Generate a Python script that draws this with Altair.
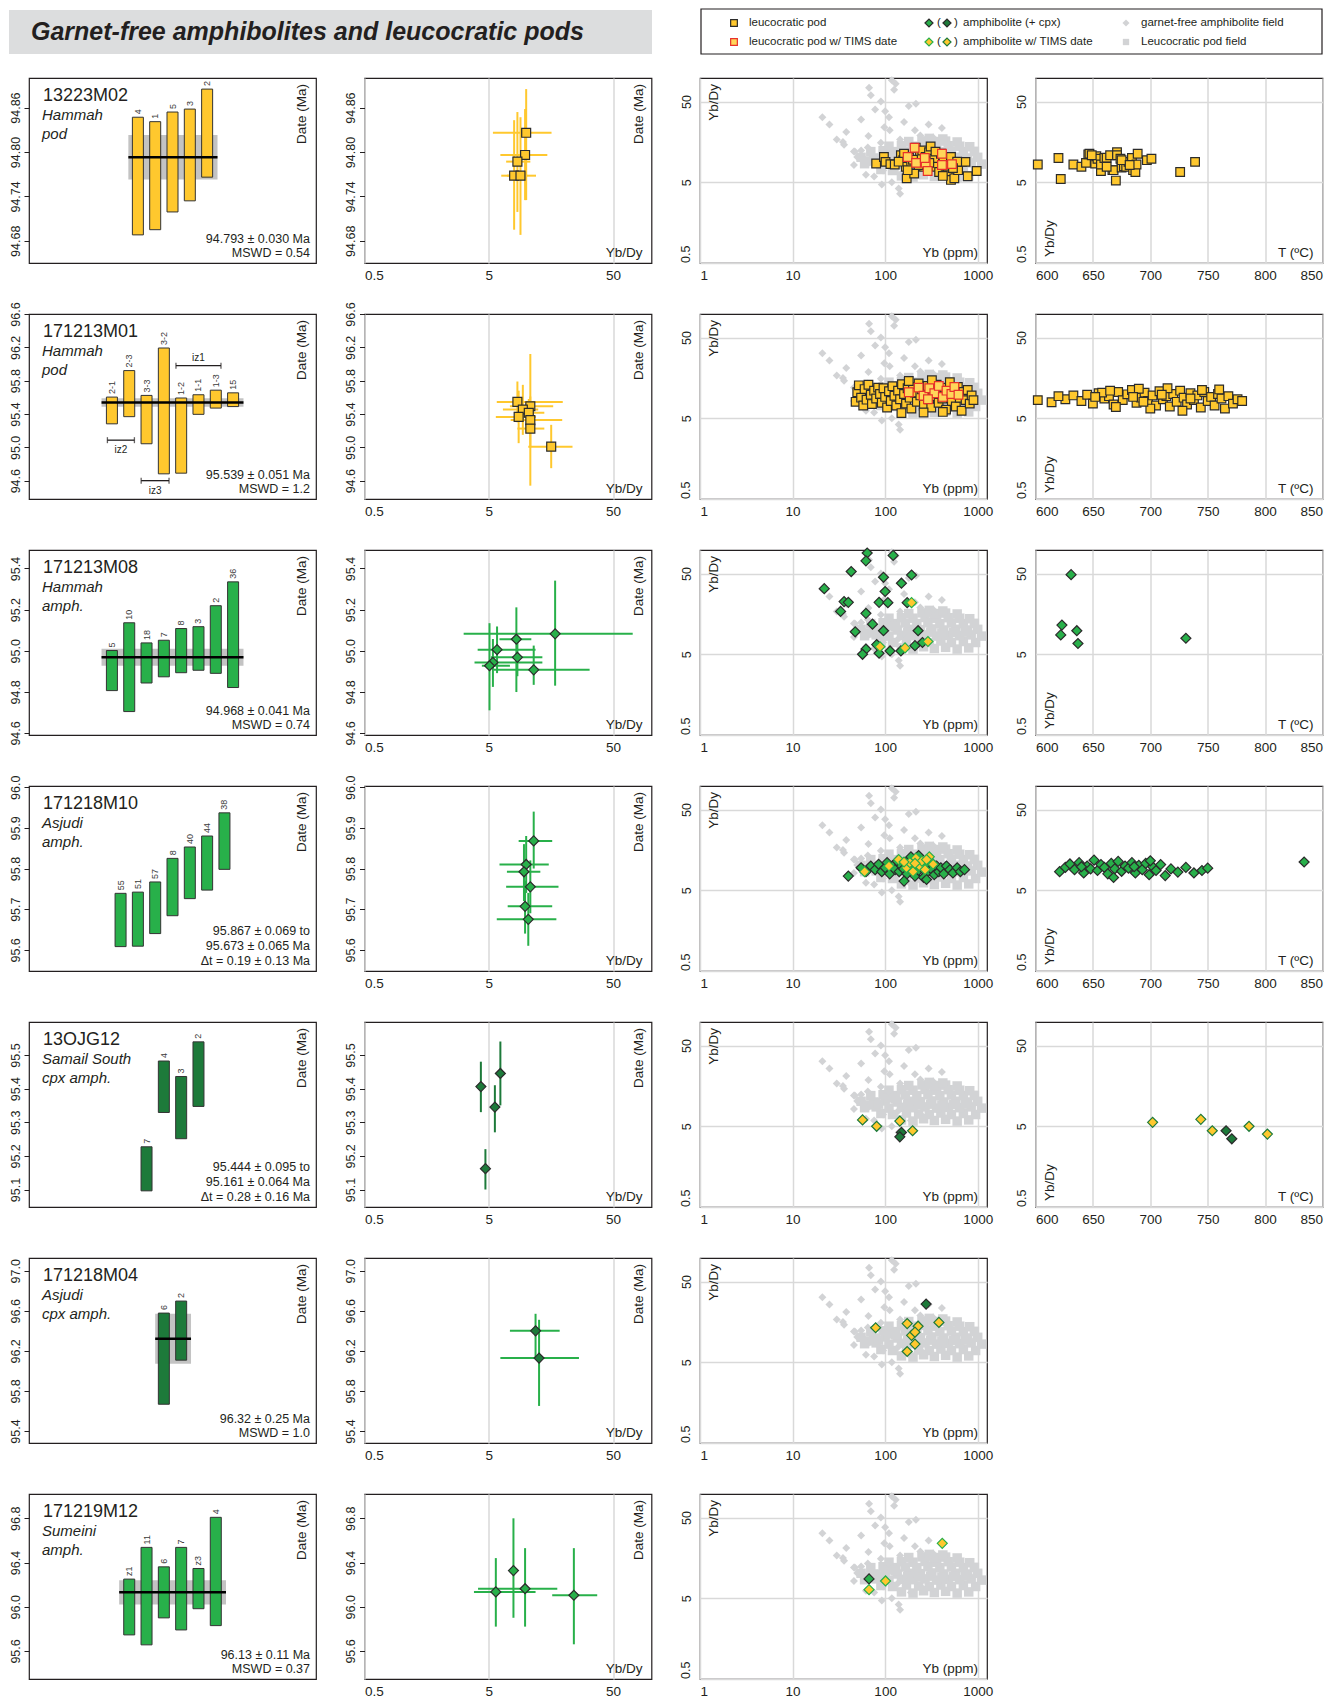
import altair as alt
import pandas as pd

FONT = "Liberation Sans"
INK = "#231F20"
YEL = "#FFC82E"
YEL_T = "#FFD65A"
GRN = "#28B04A"
DGRN = "#1D7A3A"
RED = "#E8302A"
FIELD = "#D2D3D5"
BAND = "#C3C3C3"
GRID = "#D9D9D9"
OUT = "#2B2B2B"

TITLE = "Garnet-free amphibolites and leucocratic pods"

# ---------------- column 1 : single-grain dates (bars) ----------------
NAMES = ["13223M02", "171213M01", "171213M08", "171218M10", "13OJG12", "171218M04", "171219M12"]
PLACES = [["Hammah", "pod"], ["Hammah", "pod"], ["Hammah", "amph."], ["Asjudi", "amph."],
          ["Samail South", "cpx amph."], ["Asjudi", "cpx amph."], ["Sumeini", "amph."]]
STATS = [["94.793 ± 0.030 Ma", "MSWD = 0.54"],
         ["95.539 ± 0.051 Ma", "MSWD = 1.2"],
         ["94.968 ± 0.041 Ma", "MSWD = 0.74"],
         ["95.867 ± 0.069 to", "95.673 ± 0.065 Ma", "Δt = 0.19 ± 0.13 Ma"],
         ["95.444 ± 0.095 to", "95.161 ± 0.064 Ma", "Δt = 0.28 ± 0.16 Ma"],
         ["96.32 ± 0.25 Ma", "MSWD = 1.0"],
         ["96.13 ± 0.11 Ma", "MSWD = 0.37"]]
YDOM = [[94.65, 94.90], [94.38, 96.6], [94.59, 95.49], [95.548, 96.003],
        [95.048, 95.598], [95.28, 97.127], [95.346, 97.02]]
YTICKS = [[94.68, 94.74, 94.80, 94.86], [94.6, 95.0, 95.4, 95.8, 96.2, 96.6],
          [94.6, 94.8, 95.0, 95.2, 95.4], [95.6, 95.7, 95.8, 95.9, 96.0],
          [95.1, 95.2, 95.3, 95.4, 95.5, 95.6], [95.4, 95.8, 96.2, 96.6, 97.0],
          [95.6, 96.0, 96.4, 96.8]]
YFMT = [".2f", ".1f", ".1f", ".1f", ".1f", ".1f", ".1f"]
BAR_COLOR = [YEL, YEL, GRN, GRN, DGRN, DGRN, GRN]

BAR_POS = [[6, 7, 8, 9, 10],
           [4.5, 5.5, 6.5, 7.5, 8.5, 9.5, 10.5, 11.5],
           [4.5, 5.5, 6.5, 7.5, 8.5, 9.5, 10.5, 11.5],
           [5, 6, 7, 8, 9, 10, 11],
           [6.5, 7.5, 8.5, 9.5],
           [7.5, 8.5],
           [5.5, 6.5, 7.5, 8.5, 9.5, 10.5]]
BAR_LO = [[94.688, 94.695, 94.719, 94.734, 94.766],
          [95.282, 95.368, 95.043, 94.682, 94.690, 95.396, 95.471, 95.489],
          [94.806, 94.704, 94.843, 94.873, 94.893, 94.905, 94.890, 94.821],
          [95.608, 95.609, 95.640, 95.684, 95.726, 95.747, 95.798],
          [95.096, 95.329, 95.251, 95.347],
          [95.667, 96.107],
          [95.745, 95.655, 95.899, 95.790, 95.982, 95.829]]
BAR_HI = [[94.847, 94.841, 94.854, 94.858, 94.885],
          [95.603, 95.921, 95.623, 96.192, 95.592, 95.631, 95.686, 95.654],
          [95.001, 95.136, 95.038, 95.051, 95.108, 95.117, 95.219, 95.335],
          [95.739, 95.742, 95.767, 95.825, 95.853, 95.880, 95.937],
          [95.227, 95.482, 95.436, 95.539],
          [96.577, 96.697],
          [96.250, 96.537, 96.361, 96.537, 96.346, 96.809]]
BAR_LAB = [["4", "1", "5", "3", "2"],
           ["2-1", "2-3", "3-3", "3-2", "1-2", "1-1", "1-3", "15"],
           ["5", "10", "18", "7", "8", "3", "2", "36"],
           ["55", "51", "57", "8", "40", "44", "38"],
           ["7", "4", "3", "2"],
           ["6", "2"],
           ["z1", "11", "6", "7", "z3", "4"]]
MEAN = [94.793, 95.539, 94.968, None, None, 96.32, 96.13]
MEAN_ERR = [0.030, 0.051, 0.041, None, None, 0.25, 0.11]
MEAN_SPAN = [[5.45, 10.6], [3.9, 12.1], [3.9, 12.1], None, None, [7.0, 9.07], [4.92, 11.09]]

IZ_LAB = ["iz1", "iz2", "iz3"]
IZ_X0 = [8.2, 4.24, 6.19]
IZ_X1 = [10.8, 5.8, 7.8]
IZ_Y = [95.98, 95.086, 94.60]
IZ_SIDE = ["above", "below", "below"]

# ---------------- column 2 : date vs Yb/Dy ----------------
C2_X = [[10.0, 9.8, 8.5, 8.0, 9.0],
        [8.5, 10.8, 9.4, 10.5, 8.7, 10.8, 10.8, 15.9],
        [5.83, 5.4, 5.07, 8.34, 8.5, 11.5, 17.1],
        [11.5, 10.0, 9.6, 10.8, 9.8, 10.4],
        [4.32, 5.6, 6.2, 4.7],
        [11.9, 12.7],
        [5.7, 7.9, 9.8, 24.2]]
C2_XLO = [[5.4, 6.2, 6.9, 6.3, 7.0],
          [5.8, 7.4, 6.5, 8.0, 5.7, 7.5, 8.5, 10.4],
          [4.07, 3.84, 4.4, 6.1, 5.2, 5.5, 3.14],
          [8.7, 6.1, 7.0, 6.9, 7.1, 5.8],
          [4.32, 5.6, 6.2, 4.7],
          [7.4, 6.2],
          [3.8, 7.9, 4.1, 16.2]]
C2_XHI = [[16.0, 14.8, 10.8, 10.2, 12.0],
          [19.7, 16.5, 12.5, 14.0, 12.0, 19.5, 14.0, 23.6],
          [11.9, 13.5, 7.4, 11.0, 13.5, 32.4, 72.0],
          [16.2, 15.2, 13.0, 18.2, 16.2, 17.5],
          [4.32, 5.6, 6.2, 4.7],
          [18.6, 26.6],
          [11.9, 7.9, 17.8, 37.3]]
C2_Y = [[94.826, 94.796, 94.787, 94.768, 94.768],
        [95.545, 95.493, 95.454, 95.415, 95.365, 95.327, 95.225, 95.008],
        [95.005, 94.943, 94.927, 95.056, 94.968, 94.907, 95.082],
        [95.868, 95.810, 95.792, 95.755, 95.707, 95.675],
        [95.406, 95.345, 95.445, 95.162],
        [96.40, 96.128],
        [96.134, 96.327, 96.163, 96.104]]
C2_YLO = [[94.735, 94.735, 94.719, 94.695, 94.688],
          [95.30, 95.38, 95.15, 95.25, 95.05, 94.54, 95.00, 94.75],
          [94.891, 94.824, 94.71, 94.799, 94.876, 94.834, 94.83],
          [95.80, 95.74, 95.72, 95.69, 95.64, 95.61],
          [95.33, 95.27, 95.35, 95.10],
          [96.12, 95.65],
          [95.82, 95.90, 95.82, 95.66]]
C2_YHI = [[94.885, 94.858, 94.854, 94.843, 94.847],
          [95.79, 95.61, 95.75, 95.58, 95.68, 96.12, 95.45, 95.27],
          [95.118, 95.057, 95.134, 95.211, 95.046, 95.025, 95.341],
          [95.94, 95.88, 95.86, 95.82, 95.77, 95.74],
          [95.48, 95.41, 95.54, 95.22],
          [96.57, 96.51],
          [96.44, 96.80, 96.53, 96.53]]
C2_LINE = [YEL, YEL, GRN, GRN, DGRN, GRN, GRN]
C2_FILL = [YEL, YEL, GRN, GRN, DGRN, DGRN, GRN]
C2_SHAPE = ["square", "square", "diamond", "diamond", "diamond", "diamond", "diamond"]

# ---------------- background fields (Yb/Dy vs Yb) ----------------
FIELD_DIA_YB = [67, 70, 130, 118, 125, 90, 78, 21, 215, 110, 38, 35, 66, 295, 410, 112, 145, 210,
                62, 76, 92, 145, 118, 46, 55, 84, 98, 175, 65, 50, 95, 65, 190, 288, 474, 108,
                90, 46, 135, 206, 30, 160, 240, 330, 25, 55, 100, 140, 260, 180, 36, 47]
FIELD_DIA_R = [74, 60, 83, 92, 70, 50, 40, 32, 47, 32, 21, 15.8, 18.7, 26, 23.5, 22, 17, 22,
               6.2, 5.9, 4.7, 3.6, 5.0, 8.2, 12.4, 10.2, 24, 8, 13.5, 10.3, 7, 8.5, 5.9, 15.5, 14.5, 13.5,
               15.5, 12, 7.5, 10.3, 17, 28, 19, 18, 26, 30, 38, 4.2, 6.5, 44, 14.6, 12]
FIELD_SQ_YB = [150, 200, 260, 340, 450, 600, 800,
               90, 120, 170, 230, 300, 400, 520, 700, 950,
               60, 80, 110, 150, 200, 270, 360, 480, 640, 850, 1100,
               55, 75, 100, 135, 180, 240, 320, 430, 580, 780, 1000,
               70, 95, 125, 165, 220, 290, 390, 520, 700, 920,
               110, 150, 200, 270, 360, 480, 640, 820,
               180, 250, 340, 450, 600,
               300, 420,
               175, 230, 310, 410, 550, 735, 130, 105, 85, 65]
FIELD_SQ_R = [6.0, 5.8, 6.2, 5.9, 6.1, 5.8, 6.0,
              7.2, 7.0, 7.3, 7.1, 7.0, 7.3, 7.0, 7.2, 7.0,
              8.5, 8.7, 8.4, 8.6, 8.5, 8.7, 8.4, 8.6, 8.5, 8.7, 8.4,
              10.2, 10.0, 10.3, 10.0, 10.2, 10.1, 10.3, 10.0, 10.2, 10.0, 10.2,
              12.0, 12.3, 12.0, 12.2, 12.0, 12.3, 12.0, 12.2, 12.0, 12.1,
              14.0, 14.2, 14.0, 14.3, 14.0, 14.2, 14.0, 13.8,
              16.0, 16.3, 16.0, 16.2, 15.8,
              17.5, 17.2,
              9.3, 9.2, 9.4, 9.2, 9.3, 9.4, 11.0, 11.2, 9.4, 9.2]

# ---------------- column 3 : Yb/Dy vs Yb, per sample ----------------
R1C3_YB = [80, 97, 101, 114, 127, 148, 157, 167, 171, 181, 191, 206, 214, 238, 252, 274, 298, 310, 340, 357,
           383, 401, 427, 474, 514, 514, 559, 614, 680, 737, 779, 975, 175, 263, 160, 300, 230, 350, 450, 600,
           200, 140, 420, 540]
R1C3_R = [8.55, 10.3, 8.95, 8.4, 8.3, 10.8, 9.4, 7.8, 5.6, 10.1, 8.55, 6.4, 13.4, 10.8, 12.4, 10.3, 11.8, 13.9, 9.8, 7.8,
          6.7, 11.3, 9.4, 6.7, 10.3, 5.35, 5.6, 7.07, 8.95, 8.95, 5.95, 6.9, 7.07, 7.8, 11.3, 8.7, 8.2, 12.0, 8.0, 9.0,
          9.5, 9.0, 6.0, 7.5]
R1C3_T_YB = [208, 175, 216, 274, 288, 411, 411, 527, 268]
R1C3_T_R = [13.4, 10.3, 8.7, 8.7, 6.9, 11.3, 8.2, 8.4, 10.0]

R2C3_YB = [48, 50, 52, 55, 58, 60, 63, 66, 70, 72, 76, 80, 84, 88, 92, 96, 100, 105, 110, 115,
           120, 126, 132, 138, 145, 152, 160, 168, 175, 184, 192, 200, 210, 220, 230, 240, 250, 262, 275, 288,
           300, 315, 330, 345, 360, 378, 395, 415, 435, 455, 478, 500, 525, 550, 580, 610, 640, 670, 700, 740,
           780, 820, 860, 900, 150, 260, 420, 180, 320, 500]
R2C3_R = [8.0, 10.5, 12.8, 9.0, 7.2, 11.5, 8.5, 13.0, 9.8, 7.5, 11.0, 8.8, 12.0, 10.0, 7.8, 11.8, 9.2, 6.8, 10.8, 8.2,
          12.5, 9.5, 7.2, 11.0, 8.6, 13.2, 10.0, 7.6, 11.8, 9.0, 6.6, 12.2, 10.4, 8.0, 13.5, 9.6, 11.4, 7.4, 10.0, 12.6,
          8.6, 6.8, 11.2, 9.4, 13.0, 7.8, 10.6, 8.8, 12.0, 6.4, 9.8, 11.6, 8.2, 10.4, 7.0, 12.2, 9.0, 6.2, 10.6, 8.4,
          11.2, 7.6, 9.6, 8.4, 5.8, 5.9, 6.0, 14.5, 14.8, 14.0]
R2C3_T_YB = [180, 230, 260, 300, 340, 380, 420, 460, 520, 560, 620, 290]
R2C3_T_R = [10.5, 12.0, 9.5, 11.8, 10.2, 12.6, 9.2, 11.0, 10.0, 12.2, 9.8, 8.6]

R3C3_YB = [64, 62, 122, 43, 96, 193, 22, 36, 40, 33, 62, 86, 107, 173, 73, 47.5, 96, 227, 81, 62,
           57, 86, 113, 148, 210, 253, 100, 150]
R3C3_R = [90, 72, 84, 53, 45, 48, 32.5, 22.5, 22, 17, 16.1, 22, 21.8, 21.8, 11.8, 9.5, 9.8, 9.8, 6.6, 5.8,
          5.0, 5.15, 5.5, 5.5, 6.4, 7.0, 30, 38]
R3C3_T_YB = [193, 88, 164, 290]
R3C3_T_R = [21.8, 6.2, 6.0, 7.2]

R4C3_YB = [40, 55, 62, 70, 78, 85, 92, 100, 105, 112, 120, 128, 135, 142, 150, 158, 165, 172, 180, 190,
           200, 210, 220, 230, 240, 250, 260, 275, 290, 305, 320, 340, 360, 380, 400, 430, 460, 500, 540, 600,
           650, 720, 190, 230, 160, 280]
R4C3_R = [7.5, 9.5, 8.5, 10, 9, 10.5, 8.5, 9.5, 11, 8, 10, 9, 11.5, 8.5, 10, 9.2, 11, 8, 10.5, 9,
          12, 7.5, 10, 8.8, 11, 9.5, 7.2, 10.2, 8.5, 11.5, 9, 7.8, 10, 8.5, 9.5, 8, 10, 9, 8.2, 9.5,
          8.5, 9, 13, 13.5, 6.5, 6.8]
R4C3_T_YB = [60, 110, 140, 170, 185, 200, 215, 235, 250, 270, 300, 330, 280, 210, 160]
R4C3_T_R = [8.5, 10, 12, 9.5, 11, 8.5, 12.5, 10, 11.5, 9, 13, 10.5, 12, 10.8, 11.2]

R5C3_YB = [150, 144]
R5C3_R = [4.2, 3.7]
R5C3_T_YB = [57, 81, 144, 198]
R5C3_T_R = [6.0, 5.0, 5.8, 4.4]

R6C3_YB = [277]
R6C3_R = [26.3]
R6C3_T_YB = [79, 173, 227, 381, 193, 210, 173, 210]
R6C3_T_R = [13.4, 15.1, 14.0, 15.6, 10.8, 8.4, 6.8, 11.8]

R7C3_YB = [67]
R7C3_R = [8.7]
R7C3_T_YB = [67, 101, 414]
R7C3_T_R = [6.4, 8.2, 24.0]

# ---------------- column 4 : Yb/Dy vs T ----------------
R1C4_T = [602, 620, 622, 633, 640, 644, 646, 647, 652, 653, 654, 657, 657, 660, 662, 665, 667, 668, 670, 671,
          671, 674, 675, 677, 679, 681, 684, 685, 687, 688, 689, 697, 701, 726, 739, 649, 662, 675, 682]
R1C4_R = [8.3, 10.0, 5.5, 8.3, 7.8, 8.7, 11.1, 11.3, 8.55, 10.5, 9.8, 6.9, 8.3, 10.0, 10.1, 10.8, 7.07, 7.07, 5.25, 11.8,
          10.8, 9.8, 7.6, 7.9, 7.8, 8.95, 10.0, 7.07, 6.7, 8.3, 11.3, 9.4, 9.8, 6.7, 8.95, 10.8, 7.8, 9.4, 8.2]
R2C4_T = [602, 614, 626, 633, 640, 645, 650, 655, 660, 664, 668, 672, 676, 680, 684, 688, 692, 695, 698, 702,
          705, 708, 711, 714, 717, 720, 723, 726, 729, 732, 735, 738, 741, 744, 747, 750, 753, 756, 759, 762,
          765, 768, 772, 776, 780, 658, 670, 690, 700, 715, 728, 745, 760, 685, 710, 735, 652, 620, 665, 694]
R2C4_R = [8.4, 7.9, 8.6, 9.6, 8.2, 9.8, 7.6, 10.2, 8.8, 9.4, 7.4, 10.6, 8.4, 9.9, 11.2, 7.8, 9.0, 10.4, 8.2, 9.6,
          7.2, 10.8, 8.6, 9.4, 7.0, 10.0, 8.0, 11.0, 9.0, 7.4, 10.2, 8.4, 9.6, 6.8, 10.6, 8.2, 9.2, 7.2, 10.0, 8.8,
          6.6, 9.4, 7.6, 8.6, 8.2, 10.4, 6.9, 11.6, 6.6, 11.8, 6.2, 11.2, 11.4, 9.2, 9.8, 8.8, 9.2, 9.4, 11.0, 8.0]
R3C4_T = [631, 623, 622, 636, 637, 731]
R3C4_R = [48.5, 11.5, 8.7, 9.8, 6.8, 7.9]
R4C4_T = [621, 626, 630, 634, 638, 642, 645, 648, 651, 654, 657, 660, 663, 666, 669, 672, 675, 678, 681, 684,
          687, 690, 693, 696, 699, 702, 705, 709, 713, 718, 724, 731, 738, 745, 750, 834, 640, 668, 686, 700]
R4C4_R = [8.5, 9.6, 10.6, 9.0, 11.0, 8.2, 10.0, 9.2, 11.8, 8.8, 10.4, 9.6, 8.0, 10.8, 9.2, 11.4, 8.6, 10.0, 9.4, 11.0,
          8.2, 10.2, 9.0, 10.8, 7.8, 9.8, 8.8, 10.4, 7.6, 9.2, 8.4, 9.6, 8.2, 8.8, 9.4, 11.2, 9.8, 7.2, 9.8, 11.6]
R5C4_T = [766, 771]
R5C4_R = [4.4, 3.5]
R5C4_TT = [702, 744, 754, 786, 802]
R5C4_TR = [5.6, 6.1, 4.4, 5.0, 4.0]

PW = 287
H = 185
ONE = pd.DataFrame({"k": [0]})


def note(s, x, y, size=13.5, **kw):
    return alt.Chart(ONE).mark_text(text=s, font=FONT, fontSize=size, color=INK, **kw).encode(
        x=alt.value(x), y=alt.value(y))


def age_axis(i):
    return alt.Axis(values=YTICKS[i], format=YFMT[i], title=None, labelAngle=270, labelAlign="center",
                    labelBaseline="bottom", tickSize=5, labelPadding=2, labelFontSize=12.5, grid=False)


def ratio_axis():
    # 0.5 label is drawn separately so that it sits flush with the bottom of the frame
    return alt.Axis(values=[0.5, 5, 50], format="~g", title=None, labelAngle=270, labelAlign="center",
                    labelBaseline="bottom", ticks=False, labelPadding=7, labelFontSize=12.5,
                    labelExpr="datum.value < 1 ? '' : datum.label",
                    grid=True, gridColor=GRID, gridWidth=1.5)


def bottom_axis(vals, fmt="~g"):
    return alt.Axis(values=vals, format=fmt, title=None, ticks=False, labelPadding=5, labelFontSize=13.5,
                    labelFlush=True, grid=True, gridColor=GRID, gridWidth=1.5)


def age_panel(i):
    xs = alt.Scale(domain=[0, 16], nice=False, zero=False)
    ys = alt.Scale(domain=YDOM[i], nice=False, zero=False)
    yax = age_axis(i)
    bars = pd.DataFrame({"pos": BAR_POS[i], "lo": BAR_LO[i], "hi": BAR_HI[i], "lab": BAR_LAB[i]})
    layers = []
    if MEAN[i] is not None:
        m = pd.DataFrame({"x0": [MEAN_SPAN[i][0]], "x1": [MEAN_SPAN[i][1]], "m": [MEAN[i]],
                          "lo": [MEAN[i] - MEAN_ERR[i]], "hi": [MEAN[i] + MEAN_ERR[i]]})
        layers.append(alt.Chart(m).mark_rect(color=BAND).encode(
            x=alt.X("x0:Q", scale=xs, axis=None), x2="x1",
            y=alt.Y("lo:Q", scale=ys, axis=yax), y2="hi"))
    layers.append(alt.Chart(bars).mark_bar(size=11, fill=BAR_COLOR[i], stroke="#333333", strokeWidth=1).encode(
        x=alt.X("pos:Q", scale=xs, axis=None),
        y=alt.Y("lo:Q", scale=ys, axis=yax), y2="hi"))
    if MEAN[i] is not None:
        layers.append(alt.Chart(m).mark_rule(color="black", strokeWidth=2.5).encode(
            x=alt.X("x0:Q", scale=xs, axis=None), x2="x1",
            y=alt.Y("m:Q", scale=ys, axis=yax)))
    layers.append(alt.Chart(bars).mark_text(angle=270, align="left", baseline="middle", dx=3, fontSize=9,
                                            font=FONT, color="#3A3A3A").encode(
        x=alt.X("pos:Q", scale=xs, axis=None), y=alt.Y("hi:Q", scale=ys, axis=yax), text="lab:N"))
    if i == 1:
        iz = pd.DataFrame({"lab": IZ_LAB, "x0": IZ_X0, "x1": IZ_X1, "y": IZ_Y, "side": IZ_SIDE})
        iz["xm"] = (iz["x0"] + iz["x1"]) / 2
        ends = pd.DataFrame({"x": IZ_X0 + IZ_X1, "y": IZ_Y + IZ_Y})
        layers.append(alt.Chart(iz).mark_rule(color=INK, strokeWidth=1.3).encode(
            x=alt.X("x0:Q", scale=xs, axis=None), x2="x1", y=alt.Y("y:Q", scale=ys, axis=yax)))
        layers.append(alt.Chart(ends).mark_tick(orient="vertical", size=6, thickness=1.3, color=INK).encode(
            x=alt.X("x:Q", scale=xs, axis=None), y=alt.Y("y:Q", scale=ys, axis=yax)))
        layers.append(alt.Chart(iz).transform_filter(alt.datum.side == "above").mark_text(
            dy=-8, fontSize=10, font=FONT, color=INK).encode(
            x=alt.X("xm:Q", scale=xs, axis=None), y=alt.Y("y:Q", scale=ys, axis=yax), text="lab:N"))
        layers.append(alt.Chart(iz).transform_filter(alt.datum.side == "below").mark_text(
            dy=10, fontSize=10, font=FONT, color=INK).encode(
            x=alt.X("xm:Q", scale=xs, axis=None), y=alt.Y("y:Q", scale=ys, axis=yax), text="lab:N"))
    layers.append(note(NAMES[i], 14, 23, 18, align="left", baseline="alphabetic"))
    layers.append(note(PLACES[i][0], 13, 42, 15, align="left", baseline="alphabetic", fontStyle="italic"))
    layers.append(note(PLACES[i][1], 13, 61, 15, align="left", baseline="alphabetic", fontStyle="italic"))
    layers.append(note("Date (Ma)", 273, 6, 13.5, angle=270, align="right", baseline="middle"))
    st = STATS[i]
    ys_txt = [165, 179] if len(st) == 2 else [149, 164, 179]
    for s, yy in zip(st, ys_txt):
        layers.append(note(s, 281, yy, 12.5, align="right", baseline="alphabetic"))
    return alt.layer(*layers).properties(width=PW, height=H)


def date_ratio_panel(i):
    xs = alt.Scale(type="log", domain=[0.5, 102], nice=False)
    ys = alt.Scale(domain=YDOM[i], nice=False, zero=False)
    xax = bottom_axis([0.5, 5, 50])
    yax = age_axis(i)
    df = pd.DataFrame({"x": C2_X[i], "xlo": C2_XLO[i], "xhi": C2_XHI[i],
                       "y": C2_Y[i], "ylo": C2_YLO[i], "yhi": C2_YHI[i]})
    h = alt.Chart(df).mark_rule(color=C2_LINE[i], strokeWidth=2).encode(
        x=alt.X("xlo:Q", scale=xs, axis=xax), x2="xhi", y=alt.Y("y:Q", scale=ys, axis=yax))
    v = alt.Chart(df).mark_rule(color=C2_LINE[i], strokeWidth=2).encode(
        x=alt.X("x:Q", scale=xs, axis=xax), y=alt.Y("ylo:Q", scale=ys, axis=yax), y2="yhi")
    size = 80 if C2_SHAPE[i] == "square" else 100
    p = alt.Chart(df).mark_point(shape=C2_SHAPE[i], filled=True, size=size, fill=C2_FILL[i], stroke=OUT,
                                 strokeWidth=1.2, opacity=1).encode(
        x=alt.X("x:Q", scale=xs, axis=xax), y=alt.Y("y:Q", scale=ys, axis=yax))
    t1 = note("Date (Ma)", 274, 6, 13.5, angle=270, align="right", baseline="middle")
    t2 = note("Yb/Dy", 278, 179, 13.5, align="right", baseline="alphabetic")
    return alt.layer(h, v, p, t1, t2).properties(width=PW, height=H)


def pts(df, xs, ys, xax, yax, shape, fill, stroke, size, sw=1.2):
    return alt.Chart(df).mark_point(shape=shape, filled=True, size=size, fill=fill, stroke=stroke,
                                    strokeWidth=sw, opacity=1).encode(
        x=alt.X("a:Q", scale=xs, axis=xax), y=alt.Y("b:Q", scale=ys, axis=yax))


def D(a, b):
    return pd.DataFrame({"a": a, "b": b})


YS_RATIO = alt.Scale(type="log", domain=[0.5, 98], nice=False)

C3_SERIES = [
    [(D(R1C3_YB, R1C3_R), "square", YEL, OUT, 75), (D(R1C3_T_YB, R1C3_T_R), "square", YEL_T, RED, 75)],
    [(D(R2C3_YB, R2C3_R), "square", YEL, OUT, 75), (D(R2C3_T_YB, R2C3_T_R), "square", YEL_T, RED, 75)],
    [(D(R3C3_YB, R3C3_R), "diamond", GRN, OUT, 100), (D(R3C3_T_YB, R3C3_T_R), "diamond", YEL, GRN, 100)],
    [(D(R4C3_YB, R4C3_R), "diamond", GRN, OUT, 100), (D(R4C3_T_YB, R4C3_T_R), "diamond", YEL, GRN, 100)],
    [(D(R5C3_YB, R5C3_R), "diamond", DGRN, OUT, 100), (D(R5C3_T_YB, R5C3_T_R), "diamond", YEL, DGRN, 100)],
    [(D(R6C3_YB, R6C3_R), "diamond", DGRN, OUT, 100), (D(R6C3_T_YB, R6C3_T_R), "diamond", YEL, DGRN, 100)],
    [(D(R7C3_YB, R7C3_R), "diamond", GRN, OUT, 100), (D(R7C3_T_YB, R7C3_T_R), "diamond", YEL, GRN, 100)],
]

C4_SERIES = [
    [(D(R1C4_T, R1C4_R), "square", YEL, OUT, 75)],
    [(D(R2C4_T, R2C4_R), "square", YEL, OUT, 75)],
    [(D(R3C4_T, R3C4_R), "diamond", GRN, OUT, 100)],
    [(D(R4C4_T, R4C4_R), "diamond", GRN, OUT, 100)],
    [(D(R5C4_TT, R5C4_TR), "diamond", YEL, DGRN, 100), (D(R5C4_T, R5C4_R), "diamond", DGRN, OUT, 100)],
]


def low_label():
    return note("0.5", -7, H, 12.5, angle=270, align="left", baseline="bottom")


def yb_panel(i):
    xs = alt.Scale(type="log", domain=[1, 1260], nice=False)
    xax = bottom_axis([1, 10, 100, 1000])
    yax = ratio_axis()
    layers = [pts(D(FIELD_SQ_YB, FIELD_SQ_R), xs, YS_RATIO, xax, yax, "square", FIELD, FIELD, 90, 0),
              pts(D(FIELD_DIA_YB, FIELD_DIA_R), xs, YS_RATIO, xax, yax, "diamond", FIELD, FIELD, 64, 0)]
    for df, shp, fill, stroke, size in C3_SERIES[i]:
        layers.append(pts(df, xs, YS_RATIO, xax, yax, shp, fill, stroke, size))
    layers.append(note("Yb/Dy", 14, 6, 13.5, angle=270, align="right", baseline="middle"))
    layers.append(note("Yb (ppm)", 278, 179, 13.5, align="right", baseline="alphabetic"))
    layers.append(low_label())
    return alt.layer(*layers).properties(width=PW, height=H)


def temp_panel(i):
    xs = alt.Scale(domain=[600, 850], nice=False, zero=False)
    xax = bottom_axis([600, 650, 700, 750, 800, 850], "d")
    yax = ratio_axis()
    layers = []
    for df, shp, fill, stroke, size in C4_SERIES[i]:
        layers.append(pts(df, xs, YS_RATIO, xax, yax, shp, fill, stroke, size))
    layers.append(note("Yb/Dy", 14, 179, 13.5, angle=270, align="left", baseline="middle"))
    layers.append(note("T (ºC)", 278, 179, 13.5, align="right", baseline="alphabetic"))
    layers.append(low_label())
    return alt.layer(*layers).properties(width=PW, height=H)


def blank():
    return alt.Chart(ONE).mark_point(opacity=0).encode(x=alt.value(0), y=alt.value(0)).properties(
        width=PW, height=H, view=alt.ViewBackground(strokeOpacity=0))


def header():
    L = []
    L.append(alt.Chart(ONE).mark_rect(fill="#DCDDDE").encode(
        x=alt.value(-20), x2=alt.value(623), y=alt.value(1), y2=alt.value(45)))
    L.append(note(TITLE, 2, 23, 25, align="left", baseline="middle", fontStyle="italic", fontWeight="bold"))
    L.append(alt.Chart(ONE).mark_rect(fill="white", stroke=INK, strokeWidth=1.2).encode(
        x=alt.value(672), x2=alt.value(1293), y=alt.value(0), y2=alt.value(45)))

    def sym(x, y, shape, fill, stroke, size, sw=1.2):
        return alt.Chart(ONE).mark_point(shape=shape, filled=True, size=size, fill=fill, stroke=stroke,
                                         strokeWidth=sw, opacity=1).encode(x=alt.value(x), y=alt.value(y))
    r1, r2 = 14, 33
    L.append(sym(705, r1, "square", YEL, OUT, 45))
    L.append(sym(705, r2, "square", YEL_T, RED, 45))
    L.append(note("leucocratic pod", 720, r1, 11.5, align="left", baseline="middle"))
    L.append(note("leucocratic pod w/ TIMS date", 720, r2, 11.5, align="left", baseline="middle"))
    L.append(sym(900, r1, "diamond", GRN, OUT, 64))
    L.append(sym(918, r1, "diamond", DGRN, OUT, 64))
    L.append(sym(900, r2, "diamond", YEL, GRN, 64))
    L.append(sym(918, r2, "diamond", YEL, DGRN, 64))
    for yy in (r1, r2):
        L.append(note("(", 908, yy, 11.5, align="left", baseline="middle"))
        L.append(note(")", 925, yy, 11.5, align="left", baseline="middle"))
    L.append(note("amphibolite (+ cpx)", 934, r1, 11.5, align="left", baseline="middle"))
    L.append(note("amphibolite w/ TIMS date", 934, r2, 11.5, align="left", baseline="middle"))
    L.append(sym(1097, r1, "diamond", FIELD, FIELD, 50, 0))
    L.append(sym(1097, r2, "square", FIELD, FIELD, 40, 0))
    L.append(note("garnet-free amphibolite field", 1112, r1, 11.5, align="left", baseline="middle"))
    L.append(note("Leucocratic pod field", 1112, r2, 11.5, align="left", baseline="middle"))
    return alt.layer(*L).properties(width=1293, height=46, view=alt.ViewBackground(strokeOpacity=0))


cells = []
for i in range(7):
    cells += [age_panel(i), date_ratio_panel(i), yb_panel(i)]
    if i < 5:
        cells.append(temp_panel(i))
    elif i == 5:
        cells.append(blank())

grid = alt.concat(*cells, columns=4, spacing={"row": 51, "column": 48.5}, bounds="flush")

chart = alt.vconcat(header(), grid, spacing=23, bounds="flush").properties(padding=0).configure_view(
    stroke=INK, strokeWidth=1.2
).configure_axis(
    labelFont=FONT, labelColor=INK, tickColor=INK, tickWidth=1, domain=False
)

chart.save("out.html", embed_options={"renderer": "svg", "actions": False})
